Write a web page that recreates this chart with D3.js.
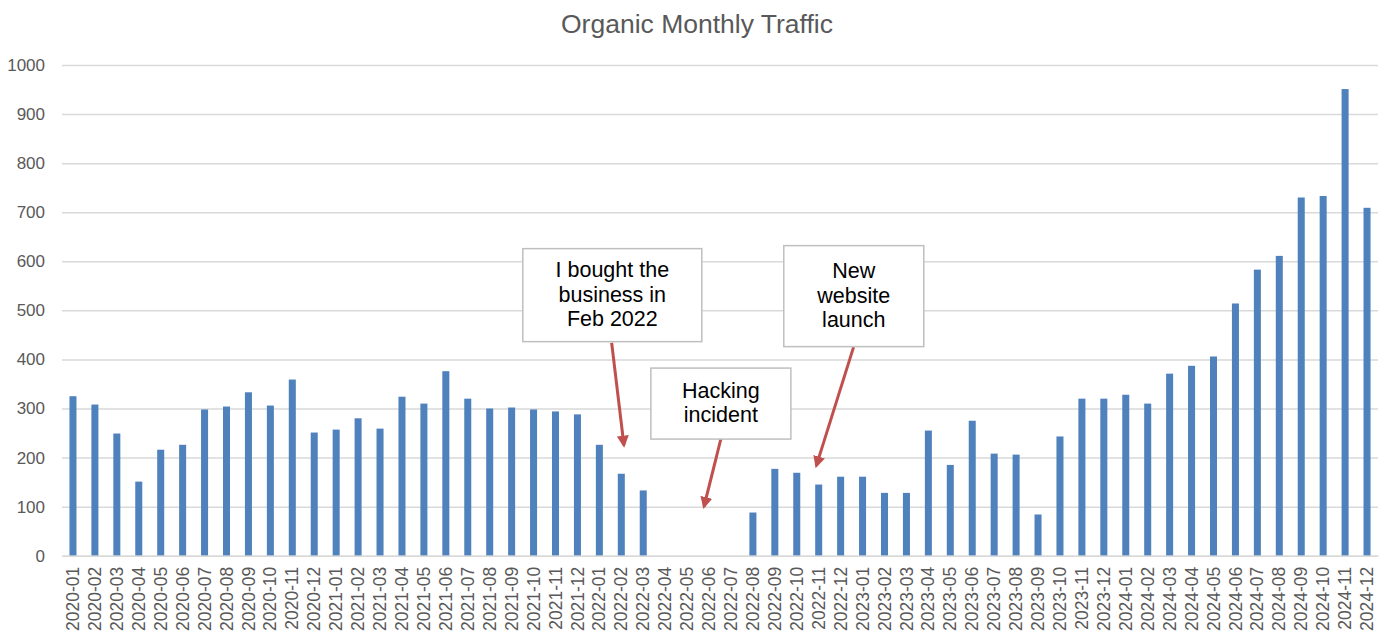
<!DOCTYPE html>
<html>
<head>
<meta charset="utf-8">
<script src="https://cdn.jsdelivr.net/npm/d3@7"></script>
<style>
  body { margin: 0; background: #fff; }
  svg { font-family: Arial, "Liberation Sans", sans-serif; }
</style>
</head>
<body>
<svg id="chart" width="1390" height="643"></svg>
<script>
// months 2020-01 .. 2024-12
var months = [];
[2020, 2021, 2022, 2023, 2024].forEach(function(y) {
  for (var m = 1; m <= 12; m++) months.push(y + "-" + (m < 10 ? "0" + m : m));
});

var traffic = [
  325, 308, 249, 151, 216, 226, 298, 304, 333, 306, 359, 251,
  257, 280, 259, 324, 310, 376, 320, 300, 302, 298, 294, 288,
  226, 167, 133, 0, 0, 0, 0, 88, 177, 169, 145, 161,
  161, 128, 128, 255, 185, 275, 208, 206, 84, 243, 320, 320,
  328, 310, 371, 387, 406, 514, 583, 611, 730, 733, 951, 709
];

var yTicks = [0, 100, 200, 300, 400, 500, 600, 700, 800, 900, 1000];

// annotation boxes: centre given in (month index, value), arrow from/to the same way
var notes = [
  {lines: ["I bought the", "business in", "Feb 2022"], cx: 24.59, cy: 531, w: 179, h: 93,
   from: [24.56, 434], to: [25.12, 225]},
  {lines: ["Hacking", "incident"], cx: 29.54, cy: 310, w: 140, h: 71,
   from: [29.54, 238], to: [28.77, 100]},
  {lines: ["New", "website", "launch"], cx: 35.6, cy: 529, w: 140, h: 101,
   from: [35.59, 425], to: [33.89, 183]}
];

drawChart();

function drawChart() {
  var svg = d3.select("#chart");
  var pLeft = 62, pRight = 1378, pTop = 65, pBottom = 555.7;

  var x = d3.scaleBand().domain(months).range([pLeft, pRight]).paddingInner(0.68).paddingOuter(0.34);
  // same axis, but by month index (for annotations)
  var xi = d3.scaleLinear().domain([-0.5, months.length - 0.5]).range([pLeft, pRight]);
  var y = d3.scaleLinear().domain([0, 1000]).range([pBottom, pTop]);

  // title
  svg.append("text")
    .attr("x", 697).attr("y", 33)
    .attr("text-anchor", "middle")
    .style("font-size", "26.5px")
    .style("fill", "#595959")
    .text("Organic Monthly Traffic");

  // grid lines + y labels
  var yAxis = d3.axisLeft(y).tickValues(yTicks).tickFormat(d3.format("d"))
    .tickSize(-(pRight - pLeft)).tickPadding(17);
  var yG = svg.append("g").attr("transform", "translate(" + pLeft + ",0)").call(yAxis);
  yG.select(".domain").remove();
  yG.selectAll(".tick line").attr("stroke", "#d9d9d9").attr("stroke-width", 1.5);
  yG.selectAll(".tick text")
    .style("font-size", "17px")
    .style("fill", "#595959")
    .style("font-family", "Arial, 'Liberation Sans', sans-serif");

  // bars
  svg.append("g").selectAll("rect")
    .data(traffic)
    .enter()
    .append("rect")
    .attr("x", function(d, i) { return x(months[i]); })
    .attr("width", x.bandwidth())
    .attr("y", function(d) { return y(d); })
    .attr("height", function(d) { return y(0) - y(d); })
    .attr("fill", "#4f81bd");

  // x axis labels
  var xAxis = d3.axisBottom(x).tickSize(0).tickPadding(0);
  var xG = svg.append("g").attr("transform", "translate(0," + pBottom + ")").call(xAxis);
  xG.select(".domain").attr("stroke", "#d9d9d9").attr("stroke-width", 1.5);
  xG.selectAll(".tick text")
    .attr("transform", "rotate(-90)")
    .attr("text-anchor", "end")
    .attr("x", -11)
    .attr("y", 0)
    .attr("dy", "0.35em")
    .style("font-size", "17.5px")
    .style("fill", "#595959")
    .style("font-family", "Arial, 'Liberation Sans', sans-serif");

  // arrows
  svg.append("defs").append("marker")
    .attr("id", "head")
    .attr("viewBox", "0 0 10 10")
    .attr("refX", 8).attr("refY", 5)
    .attr("markerWidth", 4).attr("markerHeight", 4)
    .attr("orient", "auto")
    .append("path")
    .attr("d", "M0,0 L10,5 L0,10 z")
    .attr("fill", "#c0504d");

  var ann = svg.append("g");
  notes.forEach(function(n) {
    ann.append("line")
      .attr("x1", xi(n.from[0])).attr("y1", y(n.from[1]))
      .attr("x2", xi(n.to[0])).attr("y2", y(n.to[1]))
      .attr("stroke", "#c0504d")
      .attr("stroke-width", 3)
      .attr("marker-end", "url(#head)");

    var cx = xi(n.cx), cy = y(n.cy);
    ann.append("rect")
      .attr("x", cx - n.w / 2).attr("y", cy - n.h / 2)
      .attr("width", n.w).attr("height", n.h)
      .attr("fill", "#fff")
      .attr("stroke", "#bfbfbf")
      .attr("stroke-width", 1.5);

    var lh = 24.5;
    var t = ann.append("text")
      .attr("text-anchor", "middle")
      .style("font-size", "21.5px")
      .style("fill", "#000");
    n.lines.forEach(function(l, k) {
      t.append("tspan")
        .attr("x", cx)
        .attr("y", cy - 1 + (k - (n.lines.length - 1) / 2) * lh)
        .attr("dy", "0.35em")
        .text(l);
    });
  });
}
</script>
</body>
</html>
